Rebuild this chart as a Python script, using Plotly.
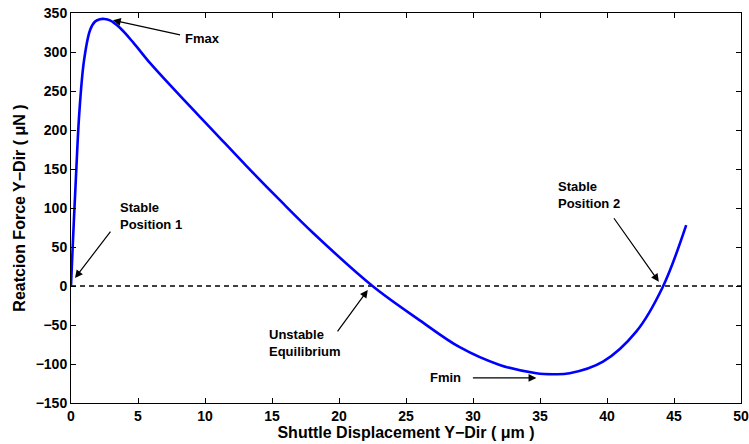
import plotly.graph_objects as go

# Reaction force of the bistable shuttle vs. displacement
displacement_um = [0, 0.1, 0.22, 0.37, 0.62, 0.97, 1.42, 1.8, 2.16, 2.5, 2.91, 3.65,
                   4.65, 5.89, 8.13, 10.61, 13.10, 15.59, 18.07, 22.5, 26.03, 29.01,
                   31.99, 34.73, 35.97, 37.21, 39.70, 42.18, 44.17, 45.91]
force_uN = [0, 40, 86, 140, 222, 289, 328, 339, 342, 342.3, 340.5, 331,
            312, 286, 244, 199, 153.7, 110, 68, 0, -44, -78.5,
            -101.2, -111.9, -113.1, -111.9, -97, -58.5, -0.9, 78]

zero_x = [0, 50]
zero_y = [0, 0]

x_ticks = list(range(0, 51, 5))
y_ticks = list(range(-150, 351, 50))

FONT = "Liberation Sans, Arial, Helvetica, sans-serif"

fig = go.Figure()
fig.add_trace(go.Scatter(x=zero_x, y=zero_y, mode="lines",
                         line=dict(color="black", width=1.3, dash="5px,4px"),
                         hoverinfo="skip", showlegend=False))
fig.add_trace(go.Scatter(x=displacement_um, y=force_uN, mode="lines",
                         line=dict(color="#0000ff", width=2.6, shape="spline", smoothing=1.0),
                         showlegend=False))

# labels and arrows: (text, text x, text y, anchor, tail x, tail y, tip x, tip y)
notes = [
    ("Fmax", 9.84, 317.7, "center", 8.25, 321.5, 3.13, 340.7),
    ("Stable<br>Position 1", 3.5, 89.7, "left", 3.03, 71.7, 0.30, 10.2),
    ("Unstable<br>Equilibrium", 14.6, -73, "left", 19.81, -60.2, 22.15, -5.1),
    ("Fmin", 27.96, -117.9, "center", 29.88, -117.9, 34.73, -117.9),
    ("Stable<br>Position 2", 36.17, 116.6, "left", 40.44, 88.8, 43.87, 5.5),
]
for text, tx, ty, anchor, axx, ayy, hx, hy in notes:
    fig.add_annotation(x=tx, y=ty, xref="x", yref="y", text=text, showarrow=False,
                       xanchor=anchor, yanchor="middle", align="left",
                       font=dict(family=FONT, size=13, color="black", weight="bold"))
    fig.add_annotation(x=hx, y=hy, ax=axx, ay=ayy, xref="x", yref="y",
                       axref="x", ayref="y", text="", showarrow=True,
                       arrowhead=2, arrowsize=1.3, arrowwidth=1.2, arrowcolor="black",
                       standoff=0, startstandoff=0)

axis_common = dict(showgrid=False, zeroline=False, showline=True, linecolor="black",
                   linewidth=1, mirror="ticks", ticks="inside", ticklen=5,
                   tickcolor="black", tickwidth=1, automargin=False,
                   tickfont=dict(family=FONT, size=14, color="black", weight="bold"))

fig.update_xaxes(range=[0, 50], tickvals=x_ticks,
                 title=dict(text="Shuttle Displacement Y\u2212Dir ( \u03bcm )", standoff=2,
                            font=dict(family=FONT, size=16, color="black", weight="bold")),
                 **axis_common)
fig.update_yaxes(range=[-150, 350], tickvals=y_ticks,
                 title=dict(text="Reatcion Force Y\u2212Dir ( \u03bcN )", standoff=6,
                            font=dict(family=FONT, size=16, color="black", weight="bold")),
                 **axis_common)

fig.update_layout(width=749, height=444, margin=dict(l=71, r=8, t=13, b=41),
                  paper_bgcolor="white", plot_bgcolor="white",
                  font=dict(family=FONT, color="black"))

fig.write_html("out.html")
